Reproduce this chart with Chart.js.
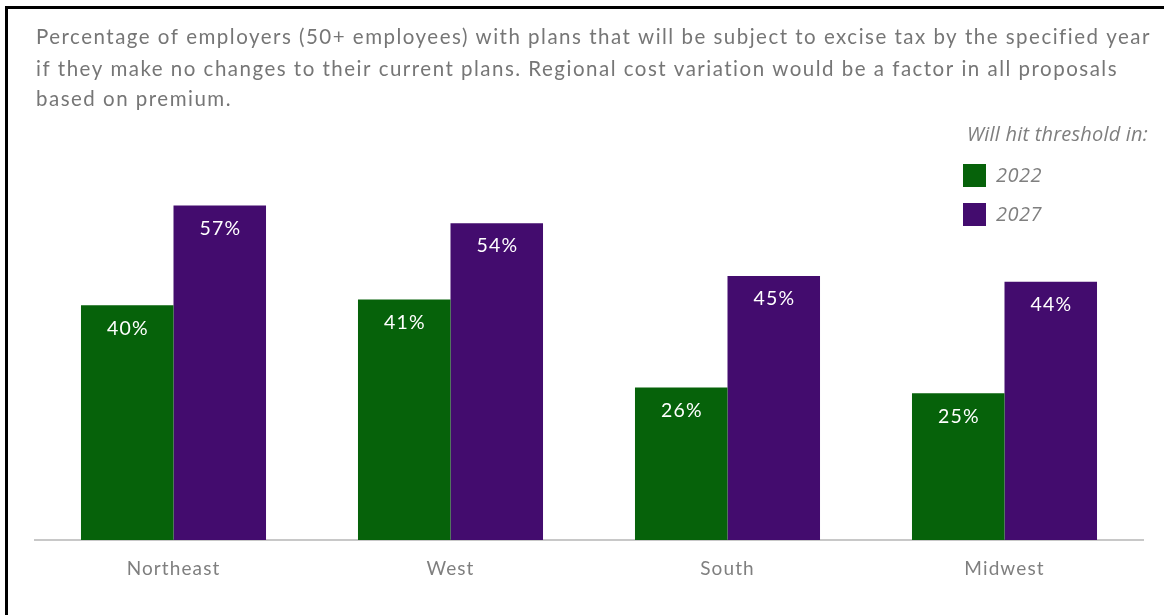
<!DOCTYPE html>
<html>
<head>
<meta charset="utf-8">
<script src="https://cdn.jsdelivr.net/npm/chart.js@4"></script>
<style>
  html, body { margin: 0; padding: 0; background: #fff; }
  #wrap { position: relative; width: 1164px; height: 615px; }
  #frameTop { position: absolute; left: 5px; top: 6px; width: 1159px; height: 3px; background: #000; }
  #frameLeft { position: absolute; left: 5px; top: 6px; width: 3px; height: 609px; background: #000; }
  canvas { position: absolute; left: 0; top: 0; }
</style>
</head>
<body>
<div id="wrap">
  <canvas id="c" width="1164" height="615"></canvas>
  <div id="frameTop"></div>
  <div id="frameLeft"></div>
</div>
<script>
const categories = ['Northeast', 'West', 'South', 'Midwest'];
const seriesNames = ['2022', '2027'];
const values2022 = [40, 41, 26, 25];
const values2027 = [57, 54, 45, 44];
const titleLines = [
  'Percentage of employers (50+ employees) with plans that will be subject to excise tax by the specified year',
  'if they make no changes to their current plans. Regional cost variation would be a factor in all proposals',
  'based on premium.'
];
const legendTitle = 'Will hit threshold in:';

const GREEN = '#06620a';
const PURPLE = '#430c6e';
const TITLE_FONT = '"Lato", "Open Sans", sans-serif';

const decorPlugin = {
  id: 'decor',
  beforeDraw(chart) {
    chart.ctx.letterSpacing = '1.1px';
  },
  afterDraw(chart) {
    const ctx = chart.ctx;
    ctx.save();
    // Title
    ctx.fillStyle = '#767676';
    ctx.font = '20.5px ' + TITLE_FONT;
    ctx.textAlign = 'left';
    ctx.textBaseline = 'middle';
    ctx.letterSpacing = '0px';
    const w = ctx.measureText(titleLines[0]).width;
    const sp = (1114 - w) / (titleLines[0].length);
    ctx.letterSpacing = sp.toFixed(2) + 'px';
    const ys = [37, 69, 99];
    titleLines.forEach((t, i) => ctx.fillText(t, 36, ys[i]));
    // Legend
    ctx.fillStyle = '#7f7f7f';
    ctx.font = 'italic 20px "Open Sans", sans-serif';
    ctx.textAlign = 'right';
    ctx.letterSpacing = '0.2px';
    ctx.fillText(legendTitle, 1148, 135);
    const colors = [GREEN, PURPLE];
    const ly = [175, 214];
    chart.data.datasets.forEach((ds, i) => {
      ctx.fillStyle = colors[i];
      ctx.fillRect(963, ly[i] - 11, 23, 23);
      ctx.fillStyle = '#7f7f7f';
      ctx.textAlign = 'left';
      ctx.font = 'italic 20px "Open Sans", sans-serif';
      ctx.letterSpacing = '0.5px';
      ctx.fillText(ds.label, 996, ly[i] + 1);
    });
    ctx.restore();
    ctx.letterSpacing = '0px';
  },
  afterDatasetsDraw(chart) {
    const ctx = chart.ctx;
    ctx.save();
    ctx.fillStyle = '#ffffff';
    ctx.font = '19.5px ' + TITLE_FONT;
    ctx.textAlign = 'center';
    ctx.textBaseline = 'middle';
    ctx.letterSpacing = '1.2px';
    chart.data.datasets.forEach((ds, di) => {
      const meta = chart.getDatasetMeta(di);
      meta.data.forEach((bar, i) => {
        ctx.fillText(ds.data[i] + '%', bar.x + 0.6, bar.y + 23);
      });
    });
    ctx.restore();
  }
};

new Chart(document.getElementById('c'), {
  type: 'bar',
  data: {
    labels: categories,
    datasets: [
      { label: seriesNames[0], data: values2022, backgroundColor: GREEN },
      { label: seriesNames[1], data: values2027, backgroundColor: PURPLE }
    ]
  },
  options: {
    responsive: false,
    animation: false,
    devicePixelRatio: 1,
    layout: { padding: { top: 188, left: 35, right: 21, bottom: 0 } },
    datasets: { bar: { categoryPercentage: 0.668, barPercentage: 1.0 } },
    plugins: {
      legend: { display: false },
      title: { display: false },
      tooltip: { enabled: false }
    },
    scales: {
      y: { display: false, min: 0, max: 60 },
      x: {
        grid: { display: false, drawTicks: false },
        border: { display: true, color: '#c8c8c8', width: 2 },
        ticks: { color: '#7f7f7f', font: { family: TITLE_FONT, size: 19 }, padding: 17 },
        afterFit(scale) { scale.height = 75; }
      }
    }
  },
  plugins: [decorPlugin]
});
</script>
</body>
</html>
